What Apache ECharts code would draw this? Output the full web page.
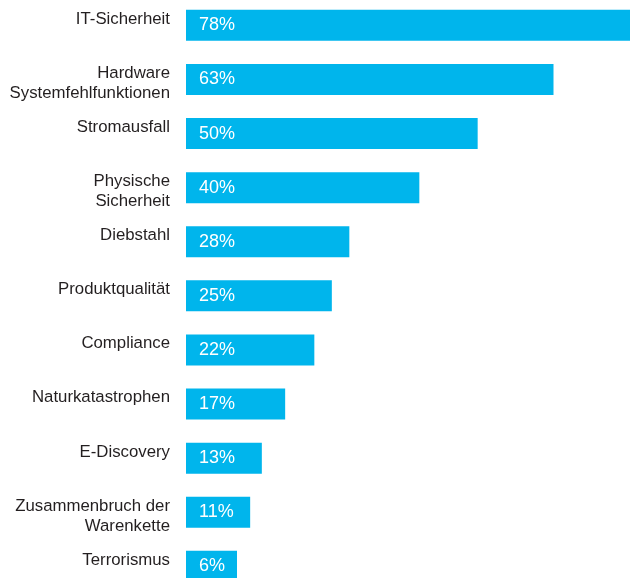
<!DOCTYPE html>
<html>
<head>
<meta charset="utf-8">
<script src="https://cdn.jsdelivr.net/npm/echarts@6/dist/echarts.min.js"></script>
<style>html,body{margin:0;padding:0;background:#fff;}#c{width:630px;height:578px;}</style>
</head>
<body>
<div id="c"></div>
<script>
const categories = ['IT-Sicherheit', 'Hardware\nSystemfehlfunktionen', 'Stromausfall', 'Physische\nSicherheit', 'Diebstahl', 'Produktqualität', 'Compliance', 'Naturkatastrophen', 'E-Discovery', 'Zusammenbruch der\nWarenkette', 'Terrorismus'];
const values = [78, 63, 50, 40, 28, 25, 22, 17, 13, 11, 6];

const chart = echarts.init(document.getElementById('c'), null, {renderer: 'canvas'});
chart.setOption({
  animation: false,
  backgroundColor: '#ffffff',
  grid: {left: 186, top: -1.7, height: 595.1, right: -11, containLabel: false, outerBoundsMode: 'none'},
  xAxis: {type: 'value', min: 0, max: 78, show: false},
  yAxis: {type: 'category', data: categories, inverse: true,
    axisLine: {show: false}, axisTick: {show: false}, axisLabel: {show: false}},
  series: [
    {
      type: 'bar', data: values, barWidth: 31, barMinHeight: 51, barGap: '-100%',
      itemStyle: {color: 'rgba(0,0,0,0)'},
      silent: true,
      label: {
        show: true, position: 'left', distance: 16, align: 'right', verticalAlign: 'top',
        offset: [0, -16.2], lineHeight: 20,
        fontFamily: 'Liberation Sans, Arial, sans-serif', fontSize: 16.8, color: '#231f20',
        formatter: p => p.name
      }
    },
    {
      type: 'bar', data: values, barWidth: 31, barMinHeight: 51, barGap: '-100%',
      itemStyle: {color: '#00B5EC'},
      label: {
        show: true, position: 'insideLeft', distance: 13,
        fontFamily: 'Liberation Sans, Arial, sans-serif', fontSize: 18, color: '#ffffff',
        formatter: p => p.value + '%'
      }
    }
  ]
});
</script>
</body>
</html>
